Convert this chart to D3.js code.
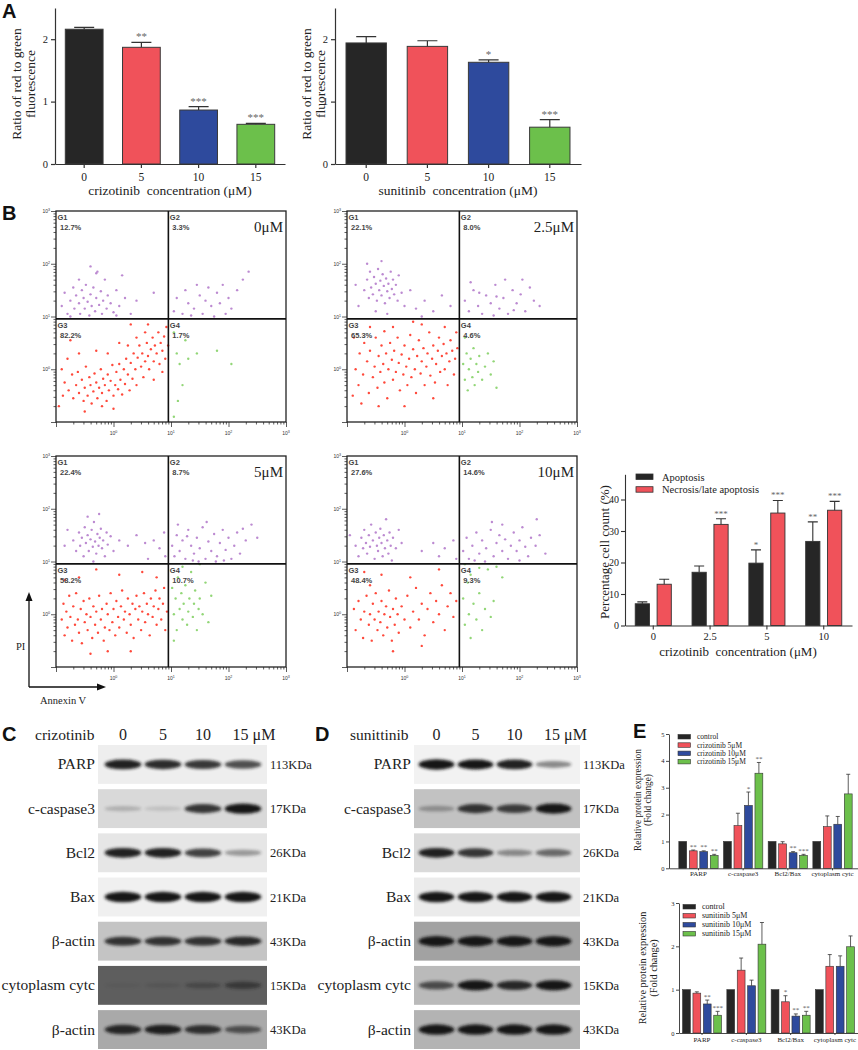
<!DOCTYPE html>
<html>
<head>
<meta charset="utf-8">
<script src="https://cdnjs.cloudflare.com/ajax/libs/d3/7.8.5/d3.min.js"></script>
<style>
  body { margin: 0; background: #fff; }
  svg { display: block; }
</style>
</head>
<body>
<script>
// ---------- data ----------
const doses = ['0', '5', '10', '15'];
const doseColors = ['#262626', '#f0525a', '#2e4a9d', '#6cc04b'];

const crizRatio = [2.16, 1.87, 0.865, 0.636];
const crizRatioErr = [0.03, 0.08, 0.055, 0.015];
const crizRatioSig = ['', '**', '***', '***'];
const suniRatio = [1.94, 1.885, 1.63, 0.59];
const suniRatioErr = [0.1, 0.09, 0.04, 0.12];
const suniRatioSig = ['', '', '*', '***'];

const flowLabels = ['0μM', '2.5μM', '5μM', '10μM'];
const flowG1 = ['12.7%', '22.1%', '22.4%', '27.6%'];
const flowG2 = ['3.3%', '8.0%', '8.7%', '14.6%'];
const flowG3 = ['82.2%', '65.3%', '58.2%', '48.4%'];
const flowG4 = ['1.7%', '4.6%', '10.7%', '9.3%'];
const flowTicks = [1, 10, 100, 1000];
const gateValue = 9;

// dots as flat [log10 Annexin V, log10 PI] pairs
const dotsRed = [
  [-0.85,-0.25,-0.78,-0.4,-0.72,-0.1,-0.7,-0.55,-0.65,-0.3,-0.62,-0.05,-0.6,-0.45,-0.55,-0.2,-0.52,-0.6,-0.5,-0.35,-0.48,0.05,-0.45,-0.5,-0.42,-0.15,-0.4,-0.3,-0.38,-0.65,-0.35,-0.42,-0.33,-0.08,-0.3,-0.25,-0.28,-0.55,-0.25,-0.35,-0.22,0.0,-0.2,-0.45,-0.18,-0.18,-0.15,-0.3,-0.12,-0.6,-0.1,-0.1,-0.08,-0.4,-0.05,-0.22,-0.02,0.08,0.0,-0.5,0.03,-0.3,0.05,-0.05,0.08,-0.38,0.1,0.1,0.12,-0.2,0.15,-0.48,0.18,0.0,0.2,-0.28,0.22,0.2,0.25,-0.1,0.28,-0.4,0.3,0.12,0.33,-0.18,0.35,0.3,0.38,0.0,0.4,-0.3,0.42,0.22,0.45,0.45,0.48,0.05,0.5,0.3,0.52,-0.15,0.55,0.15,0.58,0.5,0.6,0.25,0.62,0.0,0.65,0.38,0.68,0.6,0.7,0.15,0.72,0.45,0.75,0.3,0.78,0.7,0.8,0.1,0.82,0.5,0.85,0.35,0.88,0.62,0.9,0.2,0.92,0.8,0.55,0.7,0.4,0.6,0.25,0.45,-0.9,0.0,-0.88,-0.5,-0.8,0.2,-0.6,0.3,-0.3,0.35,-0.1,0.3,0.1,0.5,-0.5,-0.8,0.0,-0.75,-0.2,-0.7,0.6,0.85,0.3,0.85,-0.75,0.55,0.7,-0.2,0.85,-0.05,-0.95,-0.7,0.95,0.45],
  [-0.85,0.0,-0.8,-0.3,-0.78,0.3,-0.72,-0.1,-0.7,0.5,-0.65,0.15,-0.62,-0.45,-0.6,0.35,-0.55,-0.15,-0.52,0.05,-0.5,0.6,-0.47,-0.35,-0.45,0.25,-0.42,-0.05,-0.4,0.45,-0.37,0.1,-0.35,-0.25,-0.32,0.3,-0.3,-0.55,-0.28,0.0,-0.25,0.5,-0.22,0.18,-0.2,-0.2,-0.18,0.35,-0.15,-0.05,-0.12,0.6,-0.1,0.12,-0.08,-0.4,-0.05,0.28,-0.02,-0.1,0.0,0.45,0.03,0.05,0.05,-0.3,0.08,0.2,0.1,0.65,0.12,-0.15,0.15,0.38,0.18,0.0,0.2,-0.45,0.22,0.25,0.25,0.55,0.28,-0.08,0.3,0.15,0.33,0.4,0.35,-0.3,0.38,0.05,0.4,0.3,0.43,0.7,0.45,-0.12,0.48,0.2,0.5,0.45,0.53,-0.25,0.55,0.1,0.58,0.35,0.6,0.6,0.62,-0.05,0.65,0.25,0.68,0.48,0.7,0.0,0.73,0.3,0.75,-0.3,0.78,0.15,0.8,0.55,0.83,0.35,0.86,-0.1,0.88,0.2,0.9,0.7,-0.9,-0.5,-0.88,0.6,-0.6,0.8,-0.2,0.8,0.3,0.85,0.0,-0.7,-0.45,-0.7,0.5,-0.55,-0.75,-0.65,0.15,0.9,-0.35,0.72,0.7,0.8,0.92,0.4],
  [-0.9,-0.1,-0.87,0.2,-0.85,-0.4,-0.82,0.05,-0.8,-0.25,-0.77,0.35,-0.75,-0.05,-0.72,-0.5,-0.7,0.15,-0.67,-0.2,-0.65,0.4,-0.62,-0.1,-0.6,-0.35,-0.57,0.1,-0.55,-0.55,-0.52,0.25,-0.5,-0.15,-0.47,0.0,-0.45,-0.3,-0.42,0.3,-0.4,-0.05,-0.37,-0.45,-0.35,0.15,-0.32,-0.2,-0.3,0.05,-0.27,-0.35,-0.25,0.35,-0.22,-0.1,-0.2,0.1,-0.17,-0.5,-0.15,-0.25,-0.12,0.2,-0.1,0.0,-0.07,-0.3,-0.05,0.4,-0.02,-0.15,0.0,0.1,0.03,-0.4,0.05,0.25,0.08,-0.05,0.1,-0.25,0.13,0.15,0.15,0.45,0.18,-0.1,0.2,0.05,0.23,-0.35,0.25,0.3,0.28,0.0,0.3,-0.2,0.33,0.2,0.35,-0.45,0.38,0.1,0.4,0.35,0.43,-0.1,0.45,0.15,0.48,-0.3,0.5,0.05,0.53,0.4,0.55,-0.15,0.58,0.2,0.6,0.0,0.63,-0.4,0.65,0.3,0.68,-0.05,0.7,0.15,0.73,0.45,0.75,-0.2,0.78,0.1,0.8,0.3,0.83,-0.1,0.86,0.2,0.88,0.5,0.9,-0.3,0.93,0.05,-0.6,0.7,-0.3,0.85,0.1,0.75,0.5,0.8,-0.85,0.65,0.3,-0.7,-0.4,-0.75,0.75,0.7,-0.1,-0.7],
  [-0.88,0.1,-0.85,-0.3,-0.8,0.25,-0.76,-0.1,-0.72,-0.45,-0.7,0.05,-0.66,0.35,-0.62,-0.2,-0.6,0.0,-0.57,-0.5,-0.55,0.2,-0.52,-0.1,-0.5,0.4,-0.47,-0.3,-0.45,0.05,-0.42,-0.15,-0.4,0.25,-0.37,-0.4,-0.35,0.0,-0.32,0.15,-0.3,-0.25,-0.27,0.45,-0.25,-0.05,-0.22,-0.5,-0.2,0.1,-0.17,-0.2,-0.15,0.3,-0.12,0.0,-0.1,-0.35,-0.05,0.15,0.0,-0.1,0.05,0.35,0.1,-0.25,0.15,0.05,0.2,0.5,0.25,-0.1,0.3,0.2,0.35,-0.4,0.4,0.1,0.45,0.4,0.5,-0.15,0.55,0.25,0.6,0.0,0.65,0.55,0.7,-0.3,0.75,0.15,0.8,0.4,0.85,-0.05,0.9,0.25,-0.4,0.75,0.1,0.7,-0.7,0.8,0.6,0.85,-0.2,-0.7,0.3,-0.6,-0.6,0.55]
];
const dotsPurple = [
  [-0.9,1.2,-0.85,1.45,-0.8,1.05,-0.75,1.3,-0.7,1.55,-0.68,1.15,-0.65,1.4,-0.6,1.25,-0.58,1.05,-0.55,1.5,-0.52,1.35,-0.5,1.15,-0.48,1.6,-0.45,1.28,-0.42,1.02,-0.4,1.42,-0.38,1.2,-0.35,1.55,-0.32,1.1,-0.3,1.35,-0.28,1.85,-0.25,1.22,-0.22,1.48,-0.2,1.05,-0.18,1.3,-0.15,1.7,-0.12,1.15,-0.1,1.4,-0.05,1.25,0.0,1.08,0.05,1.5,0.1,1.2,0.2,1.35,0.3,1.05,-0.4,1.95,-0.3,1.82,0.15,1.78,-0.6,1.7,0.4,1.3,0.7,1.45,0.05,1.02,-0.75,1.0,
   1.05,1.1,1.1,1.35,1.2,1.05,1.3,1.25,1.4,1.15,1.5,1.4,1.55,1.05,1.6,1.3,1.65,1.55,1.7,1.2,1.75,1.0,1.8,1.45,1.85,1.25,1.9,1.6,2.0,1.35,2.05,1.15,2.15,1.5,2.25,1.7,1.45,1.6,1.35,1.02,1.25,1.5,1.95,1.05,2.35,1.85],
  [-0.7,1.5,-0.65,1.7,-0.62,1.35,-0.6,1.85,-0.58,1.55,-0.55,1.42,-0.53,1.75,-0.5,1.62,-0.48,1.3,-0.46,1.9,-0.44,1.5,-0.42,1.68,-0.4,1.4,-0.38,1.8,-0.36,1.58,-0.34,1.25,-0.32,1.72,-0.3,1.48,-0.28,1.62,-0.26,1.35,-0.24,1.85,-0.22,1.52,-0.2,1.7,-0.18,1.42,-0.15,1.6,-0.12,1.3,-0.1,1.78,-0.05,1.45,0.0,1.2,-0.8,1.2,-0.85,1.6,-0.5,1.1,-0.3,1.05,0.1,1.5,0.2,1.15,0.35,1.3,0.5,1.1,0.65,1.4,0.8,1.2,-0.65,2.0,-0.4,2.05,0.3,1.0,
   1.05,1.3,1.12,1.1,1.2,1.5,1.28,1.2,1.35,1.05,1.42,1.4,1.5,1.25,1.58,1.6,1.65,1.15,1.72,1.35,1.8,1.05,1.88,1.5,1.95,1.25,2.02,1.42,2.1,1.1,2.18,1.55,2.25,1.3,2.35,1.2,1.15,1.65,1.55,1.02,1.75,1.7,2.05,1.7,1.3,1.45,1.6,1.38,1.9,1.12],
  [-0.7,1.4,-0.65,1.2,-0.6,1.55,-0.58,1.3,-0.55,1.45,-0.52,1.1,-0.5,1.65,-0.48,1.35,-0.45,1.5,-0.43,1.2,-0.4,1.42,-0.38,1.6,-0.36,1.28,-0.34,1.75,-0.32,1.38,-0.3,1.15,-0.28,1.52,-0.26,1.3,-0.24,1.45,-0.22,1.62,-0.2,1.25,-0.18,1.4,-0.15,1.1,-0.12,1.55,-0.1,1.32,-0.05,1.48,0.0,1.2,-0.85,1.3,-0.8,1.6,-0.45,1.85,-0.35,1.0,0.1,1.4,0.25,1.3,0.4,1.5,0.55,1.35,0.6,1.05,0.7,1.4,0.8,1.25,0.88,1.55,0.9,1.1,-0.25,1.9,
   1.02,1.3,1.06,1.1,1.1,1.5,1.15,1.2,1.2,1.4,1.25,1.05,1.3,1.6,1.35,1.3,1.4,1.15,1.45,1.45,1.5,1.25,1.55,1.65,1.6,1.05,1.65,1.38,1.7,1.2,1.75,1.52,1.8,1.1,1.85,1.35,1.9,1.6,1.95,1.22,2.0,1.45,2.05,1.05,2.1,1.3,2.15,1.55,2.2,1.15,2.3,1.4,2.4,1.7,2.5,1.45,1.12,1.7,1.38,1.02,1.62,1.75,1.28,1.48,1.48,1.0,1.78,1.0,2.25,1.62,1.92,1.02],
  [-0.85,1.3,-0.8,1.1,-0.75,1.45,-0.72,1.25,-0.7,1.6,-0.67,1.35,-0.65,1.15,-0.62,1.5,-0.6,1.28,-0.58,1.7,-0.55,1.4,-0.52,1.05,-0.5,1.55,-0.48,1.3,-0.46,1.2,-0.44,1.45,-0.42,1.62,-0.4,1.35,-0.38,1.1,-0.36,1.5,-0.34,1.25,-0.32,1.8,-0.3,1.4,-0.28,1.15,-0.26,1.55,-0.24,1.3,-0.22,1.02,-0.2,1.45,-0.15,1.25,-0.1,1.6,-0.05,1.35,0.3,1.2,0.5,1.35,0.6,1.1,0.7,1.25,0.85,1.4,0.9,1.05,-0.95,1.5,
   1.02,1.2,1.08,1.45,1.12,1.05,1.18,1.3,1.25,1.55,1.3,1.15,1.35,1.4,1.42,1.25,1.5,1.6,1.55,1.1,1.6,1.35,1.65,1.5,1.7,1.2,1.75,1.42,1.8,1.05,1.85,1.3,1.9,1.55,1.95,1.2,2.0,1.4,2.05,1.65,2.1,1.28,2.15,1.1,2.2,1.45,2.28,1.3,2.35,1.5,2.45,1.15,1.4,1.0,1.7,1.7,2.0,1.02,1.22,1.02,2.3,1.8,1.52,1.75]
];
const dotsGreen = [
  [1.05,0.7,1.1,0.3,1.12,-0.6,1.15,0.1,1.2,-0.3,1.3,0.2,1.45,0.3,1.8,0.35,2.05,0.1,1.05,-0.9,1.25,0.55],
  [1.02,0.1,1.05,-0.2,1.08,0.3,1.1,-0.4,1.12,0.0,1.15,0.2,1.18,-0.15,1.2,0.4,1.22,-0.3,1.25,0.1,1.28,-0.05,1.3,0.25,1.35,-0.2,1.4,0.05,1.45,0.3,1.5,-0.1,1.55,0.15,1.05,0.6,1.6,-0.35],
  [1.02,0.5,1.05,0.0,1.08,0.3,1.1,-0.3,1.12,0.7,1.15,0.1,1.18,0.4,1.2,-0.1,1.22,0.2,1.25,0.55,1.28,-0.2,1.3,0.05,1.32,0.3,1.35,0.8,1.38,-0.05,1.4,0.2,1.42,0.45,1.45,-0.3,1.48,0.1,1.5,0.3,1.55,0.0,1.6,0.6,1.65,-0.15,1.2,0.9,1.5,0.95,1.7,0.35,1.05,-0.5],
  [1.02,0.3,1.05,-0.2,1.1,0.6,1.12,0.0,1.15,-0.45,1.2,0.2,1.25,-0.1,1.3,0.4,1.35,-0.3,1.4,0.1,1.45,0.85,1.5,-0.05,1.55,0.25,1.6,0.9,1.3,0.88,1.7,0.7,1.15,0.75,1.05,0.95]
];

const apopDoses = ['0', '2.5', '5', '10'];
const apoptosis = [6.9, 16.9, 19.8, 26.7];
const apoptosisErr = [0.6, 2.0, 4.2, 6.2];
const apoptosisSig = ['', '', '*', '**'];
const necrosis = [13.1, 32.1, 35.7, 36.6];
const necrosisErr = [1.6, 1.8, 4.0, 2.8];
const necrosisSig = ['', '***', '***', '***'];
const apopLegend = ['Apoptosis', 'Necrosis/late apoptosis'];

const blotRows = ['PARP', 'c-caspase3', 'Bcl2', 'Bax', 'β-actin', 'cytoplasm cytc', 'β-actin'];
const blotKDa = ['113KDa', '17KDa', '26KDa', '21KDa', '43KDa', '15KDa', '43KDa'];
const blotLanes = ['0', '5', '10', '15 μM'];
const crizBands = [[0.9, 0.85, 0.8, 0.7], [0.2, 0.12, 0.8, 1], [0.9, 0.9, 0.75, 0.35], [1, 1, 1, 1],
  [0.8, 0.8, 0.8, 0.85], [0.06, 0.12, 0.3, 0.5], [0.85, 0.9, 0.8, 0.6]];
const suniBands = [[1, 0.95, 0.9, 0.45], [0.3, 0.8, 0.75, 0.95], [0.9, 0.8, 0.4, 0.55], [1, 1, 1, 1],
  [1, 1, 1, 1], [0.65, 0.95, 0.85, 0.95], [1, 1, 1, 1]];
const crizBlotBg = ['#eeeeee', '#d9d9d9', '#e6e6e6', '#f0f0f0', '#c4c4c4', '#5e5e5e', '#a9a9a9'];
const suniBlotBg = ['#f2f2f2', '#c2c2c2', '#dadada', '#ebebeb', '#a2a2a2', '#bababa', '#b3b3b3'];

const foldGroups = ['PARP', 'c-caspase3', 'Bcl2/Bax', 'cytoplasm cytc'];
const crizLegend = ['control', 'crizotinib 5μM', 'crizotinib 10μM', 'crizotinib 15μM'];
const crizFold = [[1, 0.65, 0.62, 0.48], [1, 1.59, 2.34, 3.54], [1, 0.91, 0.58, 0.48], [1, 1.55, 1.64, 2.77]];
const crizFoldErr = [[0, 0.03, 0.03, 0.04], [0, 0.46, 0.5, 0.4], [0, 0.08, 0.04, 0.04], [0, 0.4, 0.29, 0.73]];
const crizFoldSig = [['', '**', '**', '**'], ['', '', '*', '**'], ['', '', '**', '***'], ['', '', '', '']];
const suniLegend = ['control', 'sunitinib 5μM', 'sunitinib 10μM', 'sunitinib 15μM'];
const suniFold = [[1, 0.92, 0.67, 0.41], [1, 1.45, 1.09, 2.05], [1, 0.72, 0.39, 0.41], [1, 1.54, 1.54, 1.99]];
const suniFoldErr = [[0, 0.03, 0.09, 0.09], [0, 0.28, 0.13, 0.5], [0, 0.14, 0.05, 0.09], [0, 0.27, 0.24, 0.25]];
const suniFoldSig = [['', '', '**', '***'], ['', '', '', ''], ['', '*', '**', '**'], ['', '', '', '']];

// ---------- helpers ----------
const serif = '"Liberation Serif", "Times New Roman", serif';
const sans = '"Liberation Sans", Arial, sans-serif';

const svg = d3.select('body').append('svg')
  .attr('width', 858).attr('height', 1050)
  .style('background', '#fff');

svg.append('defs').append('filter').attr('id', 'soft')
  .attr('x', '-30%').attr('y', '-80%').attr('width', '160%').attr('height', '260%')
  .append('feGaussianBlur').attr('stdDeviation', 1.4);

const txt = (g, s, x, y, size, opt = {}) => g.append('text')
  .attr('x', x).attr('y', y)
  .attr('font-size', size)
  .attr('font-family', opt.family || serif)
  .attr('font-weight', opt.weight || 'normal')
  .attr('text-anchor', opt.anchor || 'start')
  .attr('fill', opt.fill || '#222')
  .attr('transform', opt.rotate ? `rotate(-90 ${x} ${y})` : null)
  .style('white-space', 'pre')
  .text(s);

const styleAxis = (sel, size, width = 1.1) => {
  sel.selectAll('path, line').attr('stroke', '#333').attr('stroke-width', width);
  sel.selectAll('text').attr('font-family', serif).attr('font-size', size).attr('fill', '#222');
};

[['A', 2, 18], ['B', 2, 220], ['C', 2, 741], ['D', 315, 741], ['E', 633, 738]]
  .forEach(([l, x, y]) => txt(svg, l, x, y, 20, { family: sans, weight: 'bold', fill: '#111' }));

// ---------- A: ratio bar charts ----------
const drawRatio = (left, right, values, errs, sigs, titleX, xTitle) => {
  const g = svg.append('g');
  const y = d3.scaleLinear().domain([0, 2.5]).range([164, 8]);
  const x = d3.scaleBand().domain(doses).range([left, right]).paddingInner(0.34).paddingOuter(0.18);
  const cx = (i) => x(doses[i]) + x.bandwidth() / 2;

  g.selectAll('.bar').data(values).enter().append('rect')
    .attr('x', (d, i) => x(doses[i])).attr('y', (d) => y(d))
    .attr('width', x.bandwidth()).attr('height', (d) => y(0) - y(d))
    .attr('fill', (d, i) => doseColors[i]).attr('stroke', '#3a3a3a').attr('stroke-width', 1);
  g.selectAll('.err').data(values).enter().append('path')
    .attr('d', (d, i) => `M${cx(i)},${y(d)}V${y(d + errs[i])}M${cx(i) - 10},${y(d + errs[i])}h20`)
    .attr('stroke', '#333').attr('stroke-width', 1.2).attr('fill', 'none');
  g.selectAll('.sig').data(values).enter().append('text')
    .attr('x', (d, i) => cx(i)).attr('y', (d, i) => y(d + errs[i]) - 2)
    .attr('text-anchor', 'middle').attr('font-family', serif).attr('font-size', 11).attr('fill', '#666')
    .text((d, i) => sigs[i]);

  g.append('g').attr('transform', `translate(${left},0)`)
    .call(d3.axisLeft(y).tickValues([0, 1, 2]).tickSize(4).tickSizeOuter(0).tickPadding(3).tickFormat(d3.format('d')))
    .call((s) => styleAxis(s, 10.5, 1.2));
  g.append('g').attr('transform', 'translate(0,164)')
    .call(d3.axisBottom(x).tickSize(4).tickSizeOuter(0).tickPadding(5))
    .call((s) => styleAxis(s, 11.5, 1.2));

  txt(g, 'Ratio of red to green', titleX, 84, 13.5, { anchor: 'middle', rotate: true });
  txt(g, 'fluorescence', titleX + 13.5, 84, 13.5, { anchor: 'middle', rotate: true });
  txt(g, xTitle, (left + right) / 2, 195, 13.5, { anchor: 'middle' });
};

drawRatio(55, 285, crizRatio, crizRatioErr, crizRatioSig, 21, 'crizotinib  concentration (μM)');
drawRatio(335, 581, suniRatio, suniRatioErr, suniRatioSig, 311, 'sunitinib  concentration (μM)');

// ---------- B: flow cytometry plots ----------
const drawFlow = (i) => {
  const x0 = [56, 347][i % 2];
  const y0 = [211, 456][Math.floor(i / 2)];
  const w = 230, h = 211;
  const g = svg.append('g');
  const x = d3.scaleLog().domain([0.1, 1000]).range([x0, x0 + w]);
  const y = d3.scaleLog().domain([0.1, 1000]).range([y0 + h, y0]);
  const gx = x(gateValue), gy = y(gateValue);

  const dots = (arr, color) => {
    const pts = d3.range(0, arr.length - 1, 2).map((k) => [arr[k], arr[k + 1]]);
    g.append('g').selectAll('circle').data(pts).enter().append('circle')
      .attr('cx', (d) => x(10 ** d[0])).attr('cy', (d) => y(10 ** d[1]))
      .attr('r', 1.2).attr('fill', color).attr('opacity', 0.9);
  };
  dots(dotsPurple[i], '#b57dcc');
  dots(dotsRed[i], '#ff3526');
  dots(dotsGreen[i], '#86d168');

  const minor = [];
  for (let e = -1; e < 3; e += 1) for (let k = 1; k < 10; k += 1) minor.push(k * 10 ** e);
  minor.push(1000);
  const isMajor = (v) => Math.abs(Math.log10(v) - Math.round(Math.log10(v))) < 1e-9;

  g.append('g').attr('transform', `translate(${x0},0)`)
    .call(d3.axisLeft(y).tickValues(minor).tickSize(2.5).tickFormat(''))
    .call((s) => {
      s.select('.domain').remove();
      s.selectAll('.tick line').attr('x2', (d) => (isMajor(d) ? -5 : -2.5)).attr('stroke', '#333').attr('stroke-width', 0.8);
    });
  g.append('g').attr('transform', `translate(0,${y0 + h})`)
    .call(d3.axisBottom(x).tickValues(minor).tickSize(2.5).tickFormat(''))
    .call((s) => {
      s.select('.domain').remove();
      s.selectAll('.tick line').attr('y2', (d) => (isMajor(d) ? 5 : 2.5)).attr('stroke', '#333').attr('stroke-width', 0.8);
    });

  const supLabel = (v, lx, ly, anchor) => {
    const t = g.append('text').attr('x', lx).attr('y', ly).attr('text-anchor', anchor)
      .attr('font-family', sans).attr('font-size', 5).attr('fill', '#333').text('10');
    t.append('tspan').attr('font-size', 3.6).attr('dy', -2).text(Math.round(Math.log10(v)));
  };
  flowTicks.forEach((v) => supLabel(v, x0 - 6, y(v) + 2, 'end'));
  flowTicks.forEach((v) => supLabel(v, x(v), y0 + h + 13, 'middle'));

  g.append('rect').attr('x', x0).attr('y', y0).attr('width', w).attr('height', h)
    .attr('fill', 'none').attr('stroke', '#222').attr('stroke-width', 1.3);
  g.append('line').attr('x1', gx).attr('x2', gx).attr('y1', y0).attr('y2', y0 + h)
    .attr('stroke', '#111').attr('stroke-width', 1.6);
  g.append('line').attr('x1', x0).attr('x2', x0 + w).attr('y1', gy).attr('y2', gy)
    .attr('stroke', '#111').attr('stroke-width', 1.6);

  const gate = (name, pct, lx, ly) => {
    txt(g, name, lx + 1.5, ly + 9, 7.5, { family: sans, weight: 'bold', fill: '#444' });
    txt(g, pct, lx + 4, ly + 19, 7.5, { family: sans, weight: 'bold', fill: '#444' });
  };
  gate('G1', flowG1[i], x0, y0);
  gate('G2', flowG2[i], gx, y0);
  gate('G3', flowG3[i], x0, gy);
  gate('G4', flowG4[i], gx, gy);
  txt(g, flowLabels[i], x0 + w - 3, y0 + 21, 15, { anchor: 'end', fill: '#222' });
};
d3.range(4).forEach(drawFlow);

// PI / Annexin V arrows
const arrows = svg.append('g');
arrows.append('path').attr('d', 'M29,687V600M29,687H98').attr('stroke', '#111').attr('stroke-width', 1.3).attr('fill', 'none');
arrows.append('path').attr('d', 'M29,592l-3.5,9h7z').attr('fill', '#111');
arrows.append('path').attr('d', 'M106,687l-9,-3.5v7z').attr('fill', '#111');
txt(arrows, 'PI', 16, 650, 10.5);
txt(arrows, 'Annexin V', 40, 704, 10.5);

// ---------- B: percentage bar chart ----------
(() => {
  const g = svg.append('g');
  const y = d3.scaleLinear().domain([0, 48]).range([625.5, 474.3]);
  const x = d3.scaleBand().domain(apopDoses).range([625, 852]).paddingInner(0.365).paddingOuter(0.18);
  const xs = d3.scaleBand().domain([0, 1]).range([0, x.bandwidth()]).paddingInner(0.35);
  const series = [
    { vals: apoptosis, errs: apoptosisErr, sigs: apoptosisSig, color: '#262626' },
    { vals: necrosis, errs: necrosisErr, sigs: necrosisSig, color: '#f0525a' }
  ];
  series.forEach((s, k) => {
    const cx = (i) => x(apopDoses[i]) + xs(k) + xs.bandwidth() / 2;
    g.append('g').selectAll('rect').data(s.vals).enter().append('rect')
      .attr('x', (d, i) => x(apopDoses[i]) + xs(k)).attr('y', (d) => y(d))
      .attr('width', xs.bandwidth()).attr('height', (d) => y(0) - y(d))
      .attr('fill', s.color).attr('stroke', '#333').attr('stroke-width', 0.9);
    g.append('g').selectAll('path').data(s.vals).enter().append('path')
      .attr('d', (d, i) => `M${cx(i)},${y(d)}V${y(d + s.errs[i])}M${cx(i) - 5},${y(d + s.errs[i])}h10`)
      .attr('stroke', '#333').attr('stroke-width', 1.1).attr('fill', 'none');
    g.append('g').selectAll('text').data(s.vals).enter().append('text')
      .attr('x', (d, i) => cx(i)).attr('y', (d, i) => y(d + s.errs[i]) - 2)
      .attr('text-anchor', 'middle').attr('font-family', serif).attr('font-size', 9).attr('fill', '#666')
      .text((d, i) => s.sigs[i]);
  });
  g.append('g').attr('transform', 'translate(625,0)')
    .call(d3.axisLeft(y).tickValues([0, 10, 20, 30, 40]).tickSize(4).tickSizeOuter(0).tickPadding(2))
    .call((s) => styleAxis(s, 10, 1.1));
  g.append('g').attr('transform', 'translate(0,625.5)')
    .call(d3.axisBottom(x).tickSize(4).tickSizeOuter(0).tickPadding(3))
    .call((s) => styleAxis(s, 10.5, 1.1));
  apopLegend.forEach((l, k) => {
    g.append('rect').attr('x', 636).attr('y', 474 + k * 12.7).attr('width', 17).attr('height', 5.5)
      .attr('fill', series[k].color).attr('stroke', '#333').attr('stroke-width', 0.8);
    txt(g, l, 662, 480.5 + k * 12.7, 10.5);
  });
  txt(g, 'Percentage cell count (%)', 609, 552, 13, { anchor: 'middle', rotate: true });
  txt(g, 'crizotinib  concentration (μM)', 738, 656, 13, { anchor: 'middle' });
})();

// ---------- C / D: western blots ----------
const drawBlot = (opts) => {
  const g = svg.append('g');
  const rows = d3.scaleBand().domain(d3.range(blotRows.length)).range([745, 1049]).paddingInner(0.12);
  const lanes = d3.scaleBand().domain(d3.range(4)).range([opts.laneLeft, opts.laneRight]);
  const lc = (j) => lanes(j) + lanes.bandwidth() / 2;

  txt(g, opts.drug, opts.drugX, 740, 15.5);
  blotLanes.forEach((l, j) => txt(g, l, lc(j) + (j === 3 ? opts.lastShift : 0), 740, 16, { anchor: 'middle' }));

  blotRows.forEach((name, r) => {
    const top = rows(r), bh = rows.bandwidth(), mid = top + bh / 2;
    g.append('rect').attr('x', opts.left).attr('y', top).attr('width', opts.right - opts.left).attr('height', bh)
      .attr('fill', opts.bg[r]);
    g.append('g').selectAll('ellipse').data(opts.bands[r]).enter().append('ellipse')
      .attr('cx', (d, j) => lc(j)).attr('cy', mid)
      .attr('rx', lanes.bandwidth() * 0.46).attr('ry', (d) => 2 + 3.2 * d)
      .attr('fill', '#141414').attr('opacity', (d) => Math.min(1, d * 1.05))
      .attr('filter', 'url(#soft)');
    txt(g, name, opts.labelX, mid + 5, 15.5, { anchor: 'end' });
    txt(g, blotKDa[r], opts.kdaX, mid + 4.5, 12.5);
  });
};

drawBlot({ left: 98, right: 267, laneLeft: 103, laneRight: 263, bands: crizBands, bg: crizBlotBg,
  labelX: 95, kdaX: 270, drug: 'crizotinib', drugX: 35, lastShift: 11 });
drawBlot({ left: 414, right: 580, laneLeft: 417, laneRight: 573, bands: suniBands, bg: suniBlotBg,
  labelX: 411, kdaX: 583, drug: 'sunittinib', drugX: 350, lastShift: 12 });

// ---------- E: relative protein expression ----------
const drawFold = (opts) => {
  const g = svg.append('g');
  const y = d3.scaleLinear().domain([0, opts.max]).range([opts.y0, opts.y1]);
  const x = d3.scaleBand().domain(foldGroups).range([opts.axisX, opts.right])
    .paddingInner(0.12).paddingOuter(opts.outer);
  const xs = d3.scaleBand().domain(d3.range(4)).range([0, x.bandwidth()]).paddingInner(0.25);

  opts.values.forEach((vals, gi) => {
    const gx = x(foldGroups[gi]);
    const cx = (k) => gx + xs(k) + xs.bandwidth() / 2;
    g.append('g').selectAll('rect').data(vals).enter().append('rect')
      .attr('x', (d, k) => gx + xs(k)).attr('y', (d) => y(d))
      .attr('width', xs.bandwidth()).attr('height', (d) => y(0) - y(d))
      .attr('fill', (d, k) => doseColors[k]).attr('stroke', '#333').attr('stroke-width', 0.6);
    g.append('g').selectAll('path').data(vals).enter().append('path')
      .attr('d', (d, k) => (opts.errs[gi][k] > 0
        ? `M${cx(k)},${y(d)}V${y(d + opts.errs[gi][k])}M${cx(k) - 2},${y(d + opts.errs[gi][k])}h4` : ''))
      .attr('stroke', '#333').attr('stroke-width', 0.8).attr('fill', 'none');
    g.append('g').selectAll('text').data(vals).enter().append('text')
      .attr('x', (d, k) => cx(k)).attr('y', (d, k) => y(d + opts.errs[gi][k]) - 1.5)
      .attr('text-anchor', 'middle').attr('font-family', serif).attr('font-size', 7).attr('fill', '#555')
      .text((d, k) => opts.sigs[gi][k]);
  });

  g.append('g').attr('transform', `translate(${opts.axisX},0)`)
    .call(d3.axisLeft(y).ticks(opts.max).tickSize(3).tickSizeOuter(0).tickPadding(1.5).tickFormat(d3.format('d')))
    .call((s) => styleAxis(s, 6.5, 0.9));
  g.append('g').attr('transform', `translate(0,${opts.y0})`)
    .call(d3.axisBottom(x).tickSize(2).tickSizeOuter(0).tickPadding(opts.labelPad))
    .call((s) => styleAxis(s, 7, 0.9));

  opts.legend.forEach((l, k) => {
    g.append('rect').attr('x', opts.legX).attr('y', opts.legY + k * opts.legStep)
      .attr('width', 12.5).attr('height', 4.5)
      .attr('fill', doseColors[k]).attr('stroke', '#333').attr('stroke-width', 0.6);
    txt(g, l, opts.legX + 19, opts.legY + k * opts.legStep + 4.8, opts.legFont);
  });

  txt(g, 'Relative protein expression', opts.titleX, opts.titleY, opts.titleFont, { anchor: 'middle', rotate: true });
  txt(g, '(Fold change)', opts.titleX + opts.titleFont * 1.1, opts.titleY, opts.titleFont, { anchor: 'middle', rotate: true });
};

drawFold({ values: crizFold, errs: crizFoldErr, sigs: crizFoldSig, legend: crizLegend,
  max: 5, y0: 868.3, y1: 734, axisX: 669, right: 862, outer: 0.22, labelPad: 0.5,
  legX: 678, legY: 734.5, legStep: 8.3, legFont: 7.5, titleX: 641, titleY: 800, titleFont: 9.3 });
drawFold({ values: suniFold, errs: suniFoldErr, sigs: suniFoldSig, legend: suniLegend,
  max: 3, y0: 1033, y1: 903, axisX: 679, right: 858, outer: 0.08, labelPad: 2,
  legX: 683, legY: 904.5, legStep: 9, legFont: 8, titleX: 646, titleY: 968, titleFont: 10.3 });
</script>
</body>
</html>
